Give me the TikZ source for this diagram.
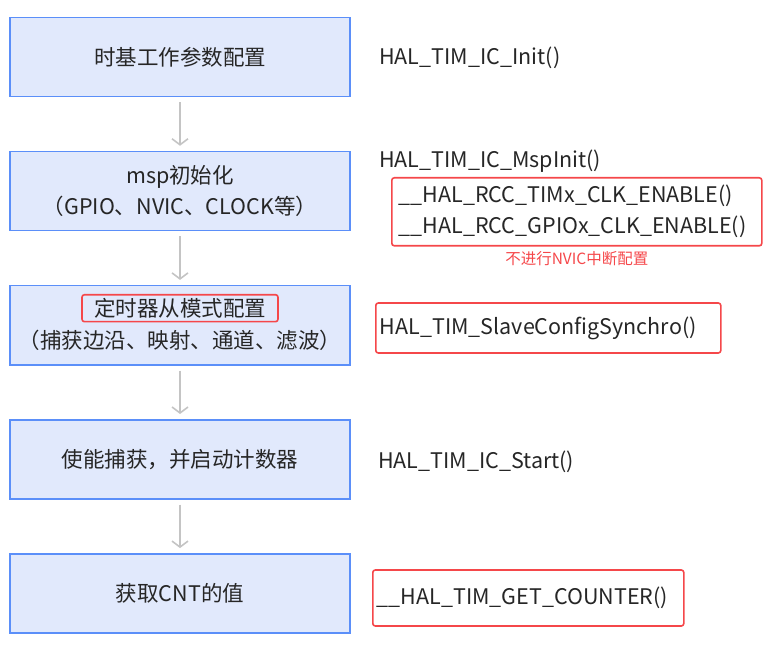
\documentclass[tikz,border=0pt]{standalone}
\usepackage{fontspec}
\setmainfont{Noto Sans CJK SC}
\usepackage{xcolor}
\usetikzlibrary{arrows.meta,positioning}
\definecolor{BoxBlue}{HTML}{5B8FF9}
\definecolor{BoxFill}{HTML}{E1E9FC}
\definecolor{AlertRed}{HTML}{F5474A}
\definecolor{Ink}{HTML}{262626}
\definecolor{FlowGray}{HTML}{C4C4C4}

\begin{document}
\begin{tikzpicture}[x=1pt,y=-1pt,
  every node/.style={font=\fontsize{21.5}{31}\selectfont,text=Ink,align=center},
  stage/.style={draw=BoxBlue,line width=1.6pt,fill=BoxFill,minimum width=340pt,minimum height=79pt,inner sep=0pt},
  call/.style={anchor=west,inner sep=0pt},
  redbox/.style={draw=AlertRed,line width=1.6pt,rounded corners=2.5pt},
  arr/.style={-{Straight Barb[length=6pt,width=16pt]},line width=1.6pt,FlowGray,shorten <=5pt,shorten >=5pt}
]
\useasboundingbox (0,0) rectangle (769,647);
% flow of stages
\node[stage] (base) at (180,57) {时基工作参数配置};
\node[stage,below=53.5pt of base] (msp) {msp初始化\\（GPIO、NVIC、CLOCK等）};
\node[stage,below=53.5pt of msp] (slave) {};
\node[redbox,inner xsep=12pt,inner ysep=3.5pt] (slavett) at ([yshift=17pt]slave.center) {定时器从模式配置};
\node[inner sep=0pt] (slavesub) at ([yshift=-15pt]slave.center) {（捕获边沿、映射、通道、滤波）};
\node[stage,below=53.5pt of slave] (start) {使能捕获，并启动计数器};
\node[stage,below=53.5pt of start] (cnt) {获取CNT的值};
\draw[arr] (base)--(msp); \draw[arr] (msp)--(slave); \draw[arr] (slave)--(start); \draw[arr] (start)--(cnt);
% HAL calls
\node[call] (init) at (379,58) {HAL\_TIM\_IC\_Init()};
\node[call] (mspinit) at (379,161) {HAL\_TIM\_IC\_MspInit()};
\node[redbox,anchor=north west,align=left,text width=356pt,inner xsep=7pt,inner ysep=0pt,minimum height=68pt] (rcc) at (391,177)
  {\_\_HAL\_RCC\_TIMx\_CLK\_ENABLE()\\\_\_HAL\_RCC\_GPIOx\_CLK\_ENABLE()};
\node[below=5pt of rcc,inner sep=0pt,text=AlertRed,font=\fontsize{15.5}{17}\selectfont] (nvic) {不进行NVIC中断配置};
\node[redbox,anchor=west,align=left,text width=337pt,inner xsep=4pt,inner ysep=0pt,minimum height=50pt] (synchro) at (375,328)
  {HAL\_TIM\_SlaveConfigSynchro()};
\node[call] (icstart) at (378,462) {HAL\_TIM\_IC\_Start()};
\node[redbox,anchor=west,align=left,text width=303pt,inner xsep=4pt,inner ysep=0pt,minimum height=56pt] (counter) at (372,598)
  {\_\_HAL\_TIM\_GET\_COUNTER()};
\end{tikzpicture}
\end{document}
